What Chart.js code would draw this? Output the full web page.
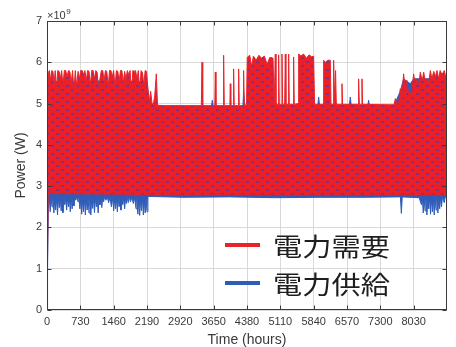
<!DOCTYPE html>
<html><head><meta charset="utf-8">
<script src="https://cdn.jsdelivr.net/npm/chart.js@4.4.1/dist/chart.umd.min.js"></script>
<style>html,body{margin:0;padding:0;background:#fff;}canvas{display:block;}</style>
</head><body>
<canvas id="c" width="456" height="347"></canvas>
<script>
// ---- data (power in units of 10^9 W, time in hours) ----
const seriesNames = ['電力需要', '電力供給'];
const xTickHours = [0,730,1460,2190,2920,3650,4380,5110,5840,6570,7300,8030];
const xTickLabels = ['0','730','1460','2190','2920','3650','4380','5110','5840','6570','7300','8030'];
const yTickValues = [0,1,2,3,4,5,6,7];
const yTickLabels = ['0','1','2','3','4','5','6','7'];

// demand (red) upper envelope
const demandUpperHours = [0,25,55,80,105,130,155,180,210,235,265,290,320,350,380,410,440,470,500,530,560,590,620,650,680,710,740,770,800,830,860,890,920,950,980,1010,1040,1070,1100,1130,1160,1190,1220,1250,1280,1310,1340,1370,1400,1430,1460,1490,1520,1550,1580,1610,1640,1670,1700,1730,1760,1790,1820,1850,1880,1910,1940,1970,2000,2030,2060,2090,2120,2150,2180,2210,2240,2270,2300,2330,2360,2394,2420,
 2560,3380,3395,3410,3675,3686,3700,3855,3868,3882,4005,4014,4025,4075,4087,4100,4185,4197,4210,4295,4306,4320,
 4370,4385,4440,4480,4520,4580,4640,4700,4760,4820,4880,4950,4975,4990,5000,5015,5060,5073,5086,5135,5146,5160,5205,5219,5232,5280,5292,5305,5390,5401,5415,
 5500,5511,5560,5620,5680,5740,5800,5839,5860,6045,6058,6100,6150,6204,6220,6265,6277,6300,6320,6336,6450,6460,6472,6815,6824,6840,6885,6898,6910,
 7600,7628,7660,7700,7737,7770,7810,7850,7883,7920,7956,7990,8029,8070,8103,8140,8176,8215,8250,8290,8322,8360,8395,8430,8470,8505,8541,8577,8610,8650,8700,8730,8760];
const demandUpperValues = [2.3,5.75,5.8,5.55,5.8,5.78,5.5,5.8,5.35,5.8,5.78,5.6,5.8,5.45,5.8,5.8,5.65,5.8,5.78,5.5,5.8,5.3,5.8,5.4,5.78,5.6,5.8,5.8,5.7,5.8,5.55,5.8,5.78,5.45,5.8,5.8,5.6,5.8,5.75,5.3,5.6,5.8,5.8,5.55,5.8,5.78,5.4,5.8,5.8,5.65,5.8,5.4,5.8,5.78,5.55,5.8,5.8,5.5,5.78,5.6,5.8,5.7,5.8,5.2,5.8,5.78,5.8,5.6,5.8,5.3,5.8,5.75,5.45,5.8,5.78,5.35,5.0,5.3,5.0,4.98,5.2,5.72,4.96,
 4.95,4.95,6.0,4.95,4.95,5.76,4.95,4.95,6.17,4.95,4.95,5.48,4.95,4.95,5.84,4.95,4.95,5.84,4.95,4.95,5.8,4.95,
 4.98,6.12,6.17,5.9,6.15,6.05,6.17,6.1,6.15,5.95,6.12,6.1,4.98,4.98,6.2,4.98,4.98,6.18,4.98,4.98,6.2,4.98,4.98,6.2,4.98,4.98,6.2,4.98,4.98,6.13,4.98,
 5.0,6.2,6.15,6.2,6.1,6.18,6.13,6.15,4.98,4.98,6.05,6.0,6.05,6.05,4.98,4.98,6.05,4.98,5.8,4.98,4.98,5.48,4.98,4.98,5.6,4.98,4.98,5.6,4.98,
 4.97,5.12,4.98,5.0,5.36,5.1,5.72,5.3,5.56,5.2,5.24,5.3,5.72,5.4,5.6,5.45,5.76,5.55,5.76,5.5,5.6,5.5,5.8,5.6,5.78,5.65,5.8,5.6,5.8,5.7,5.8,5.65,5.8];
// demand (red) lower envelope
const demandLowerHours = [0,25,2200,4000,6000,8760];
const demandLowerValues = [0,2.82,2.8,2.8,2.79,2.8];

// supply (blue) upper envelope
const supplyUpperHours = [0,12,30,300,700,1100,1500,1900,2190,2260,3600,3620,3640,4290,4306,4330,5930,5949,5970,6620,6642,6665,7020,7043,7065,7600,7737,7810,7956,8030,8760];
const supplyUpperValues = [1.0,1.0,5.5,5.55,5.5,5.55,5.5,5.55,5.5,4.93,4.93,5.08,4.93,4.93,5.3,4.95,4.95,5.16,4.95,4.93,5.16,4.93,4.93,5.08,4.93,4.95,5.3,5.6,5.48,5.6,5.6];
// supply (blue) lower envelope
const supplyLowerHours = [0,12,30,50,70,90,110,130,150,170,190,210,230,250,270,290,310,330,350,370,390,410,430,450,470,490,510,530,550,570,590,610,630,650,680,700,720,740,760,780,800,820,840,860,880,900,920,940,960,980,1000,1020,1040,1060,1080,1100,1120,1140,1160,1180,1200,1220,1240,1260,1290,1320,1350,1380,1410,1440,1460,1480,1500,1520,1540,1560,1580,1600,1620,1640,1660,1680,1700,1720,1740,1760,1780,1800,1830,1860,1890,1920,1950,1970,1990,2010,2030,2050,2070,2090,2110,2130,2150,2170,2190,2210,2226,
 3000,4000,5000,6000,7000,7740,7760,7780,8150,8200,8220,8240,8260,8280,8300,8320,8340,8360,8380,8400,8420,8440,8460,8480,8500,8520,8540,8560,8580,8600,8620,8640,8660,8700,8720,8760];
const supplyLowerValues = [0,1.0,2.45,2.72,2.38,2.7,2.5,2.72,2.35,2.68,2.42,2.72,2.3,2.7,2.48,2.72,2.4,2.7,2.36,2.72,2.55,2.7,2.42,2.72,2.5,2.7,2.38,2.72,2.45,2.7,2.52,2.72,2.66,2.74,2.62,2.74,2.45,2.7,2.32,2.68,2.38,2.72,2.3,2.7,2.42,2.72,2.35,2.7,2.3,2.72,2.46,2.7,2.36,2.72,2.5,2.7,2.35,2.72,2.55,2.7,2.48,2.72,2.62,2.74,2.66,2.74,2.6,2.74,2.5,2.72,2.4,2.7,2.45,2.72,2.38,2.7,2.5,2.72,2.42,2.7,2.55,2.72,2.45,2.7,2.58,2.72,2.6,2.74,2.62,2.74,2.58,2.72,2.45,2.7,2.32,2.68,2.29,2.7,2.4,2.72,2.3,2.68,2.35,2.7,2.38,2.72,2.75,
 2.73,2.74,2.72,2.73,2.73,2.74,2.34,2.74,2.72,2.55,2.72,2.35,2.7,2.4,2.72,2.3,2.68,2.45,2.72,2.32,2.7,2.38,2.72,2.3,2.7,2.42,2.72,2.35,2.7,2.45,2.72,2.5,2.74,2.6,2.74,2.72];

// ---- styling ----
const demandColor = '#e8232a';
const supplyColor = '#2f5cb8';
const axisColor = '#3a3a3a';
const gridColor = '#d9d9d9';
const fontFamily = '"Liberation Sans", Arial, sans-serif';

function pts(h, v) { return h.map((t, i) => ({x: t, y: v[i]})); }

function makePattern() {
  const c = document.createElement('canvas'); c.width = 10; c.height = 8;
  const g = c.getContext('2d');
  g.fillStyle = '#ec1f27'; g.fillRect(0, 0, 10, 8);
  g.fillStyle = 'rgba(85,55,170,0.7)';
  g.fillRect(1, 1, 3, 2); g.fillRect(6, 5, 3, 2);
  return g.createPattern(c, 'repeat');
}

const boxPlugin = {
  id: 'matlabBox',
  afterDatasetsDraw(chart) {
    const {ctx, chartArea: a, scales: {x, y}} = chart;
    ctx.save();
    ctx.strokeStyle = axisColor; ctx.lineWidth = 1;
    const L = Math.round(a.left) + 0.5, T = Math.round(a.top) + 0.5, R = Math.round(a.right) - 0.5, B = Math.round(a.bottom) - 0.5;
    ctx.strokeRect(L, T, R - L, B - T);
    ctx.beginPath();
    x.ticks.forEach(t => {
      const px = Math.round(x.getPixelForValue(t.value)) + 0.5;
      ctx.moveTo(px, B); ctx.lineTo(px, B - 4);
      ctx.moveTo(px, T); ctx.lineTo(px, T + 4);
    });
    y.ticks.forEach(t => {
      const py = Math.round(y.getPixelForValue(t.value)) + 0.5;
      ctx.moveTo(L, py); ctx.lineTo(L + 4, py);
      ctx.moveTo(R, py); ctx.lineTo(R - 4, py);
    });
    ctx.stroke();
    // exponent label
    ctx.fillStyle = axisColor; ctx.textAlign = 'left'; ctx.textBaseline = 'alphabetic';
    ctx.font = '11px ' + fontFamily;
    ctx.fillText('×10', a.left, a.top - 2.5);
    const w = ctx.measureText('×10').width;
    ctx.font = '8px ' + fontFamily;
    ctx.fillText('9', a.left + w + 0.5, a.top - 7.5);
    // legend
    const entries = [
      {label: chart.data.datasets[0].label, color: demandColor, y: 245},
      {label: chart.data.datasets[2].label, color: supplyColor, y: 283}
    ];
    entries.forEach(e => {
      ctx.strokeStyle = e.color; ctx.lineWidth = 4;
      ctx.beginPath(); ctx.moveTo(225, e.y); ctx.lineTo(260, e.y); ctx.stroke();
      ctx.save();
      ctx.translate(273, e.y + 1);
      ctx.scale(1.17, 1);
      ctx.fillStyle = '#1e1e1e';
      ctx.font = '25px "Noto Sans CJK JP"';
      ctx.textBaseline = 'middle';
      ctx.fillText(e.label, 0, 0);
      ctx.restore();
    });
    ctx.restore();
  }
};

const pattern = makePattern();
new Chart(document.getElementById('c').getContext('2d'), {
  type: 'line',
  data: {
    datasets: [
      {label: seriesNames[0], data: pts(demandUpperHours, demandUpperValues), borderColor: demandColor, backgroundColor: pattern, borderWidth: 1, fill: '+1', pointRadius: 0},
      {label: seriesNames[0] + ' (min)', data: pts(demandLowerHours, demandLowerValues), borderColor: demandColor, borderWidth: 1, fill: false, pointRadius: 0},
      {label: seriesNames[1], data: pts(supplyUpperHours, supplyUpperValues), borderColor: supplyColor, backgroundColor: supplyColor, borderWidth: 1, fill: '+1', pointRadius: 0},
      {label: seriesNames[1] + ' (min)', data: pts(supplyLowerHours, supplyLowerValues), borderColor: supplyColor, borderWidth: 1, fill: false, pointRadius: 0}
    ]
  },
  options: {
    responsive: false, animation: false, devicePixelRatio: 1,
    layout: {padding: {top: 21, right: 9, left: 0, bottom: 0}},
    elements: {line: {tension: 0}},
    plugins: {legend: {display: false}, tooltip: {enabled: false}},
    scales: {
      x: {
        type: 'linear', min: 0, max: 8760,
        afterBuildTicks: s => { s.ticks = xTickHours.map(v => ({value: v})); },
        afterFit: s => { s.height = 37; },
        ticks: {autoSkip: false, maxRotation: 0, padding: 5, color: axisColor, font: {family: fontFamily, size: 11}, callback: (v, i) => xTickLabels[i]},
        grid: {color: gridColor, drawTicks: false},
        border: {display: false},
        title: {display: true, text: 'Time (hours)', color: axisColor, font: {family: fontFamily, size: 14, lineHeight: 1}, padding: {top: 0, bottom: 0}}
      },
      y: {
        min: 0, max: 7,
        afterBuildTicks: s => { s.ticks = yTickValues.map(v => ({value: v})); },
        afterFit: s => { s.width = 47; },
        ticks: {padding: 5, color: axisColor, font: {family: fontFamily, size: 11}, callback: (v, i) => yTickLabels[i]},
        grid: {color: gridColor, drawTicks: false},
        border: {display: false},
        title: {display: true, text: 'Power (W)', color: axisColor, font: {family: fontFamily, size: 14}, padding: {top: 13, bottom: 0}}
      }
    }
  },
  plugins: [boxPlugin]
});
</script>
</body></html>
